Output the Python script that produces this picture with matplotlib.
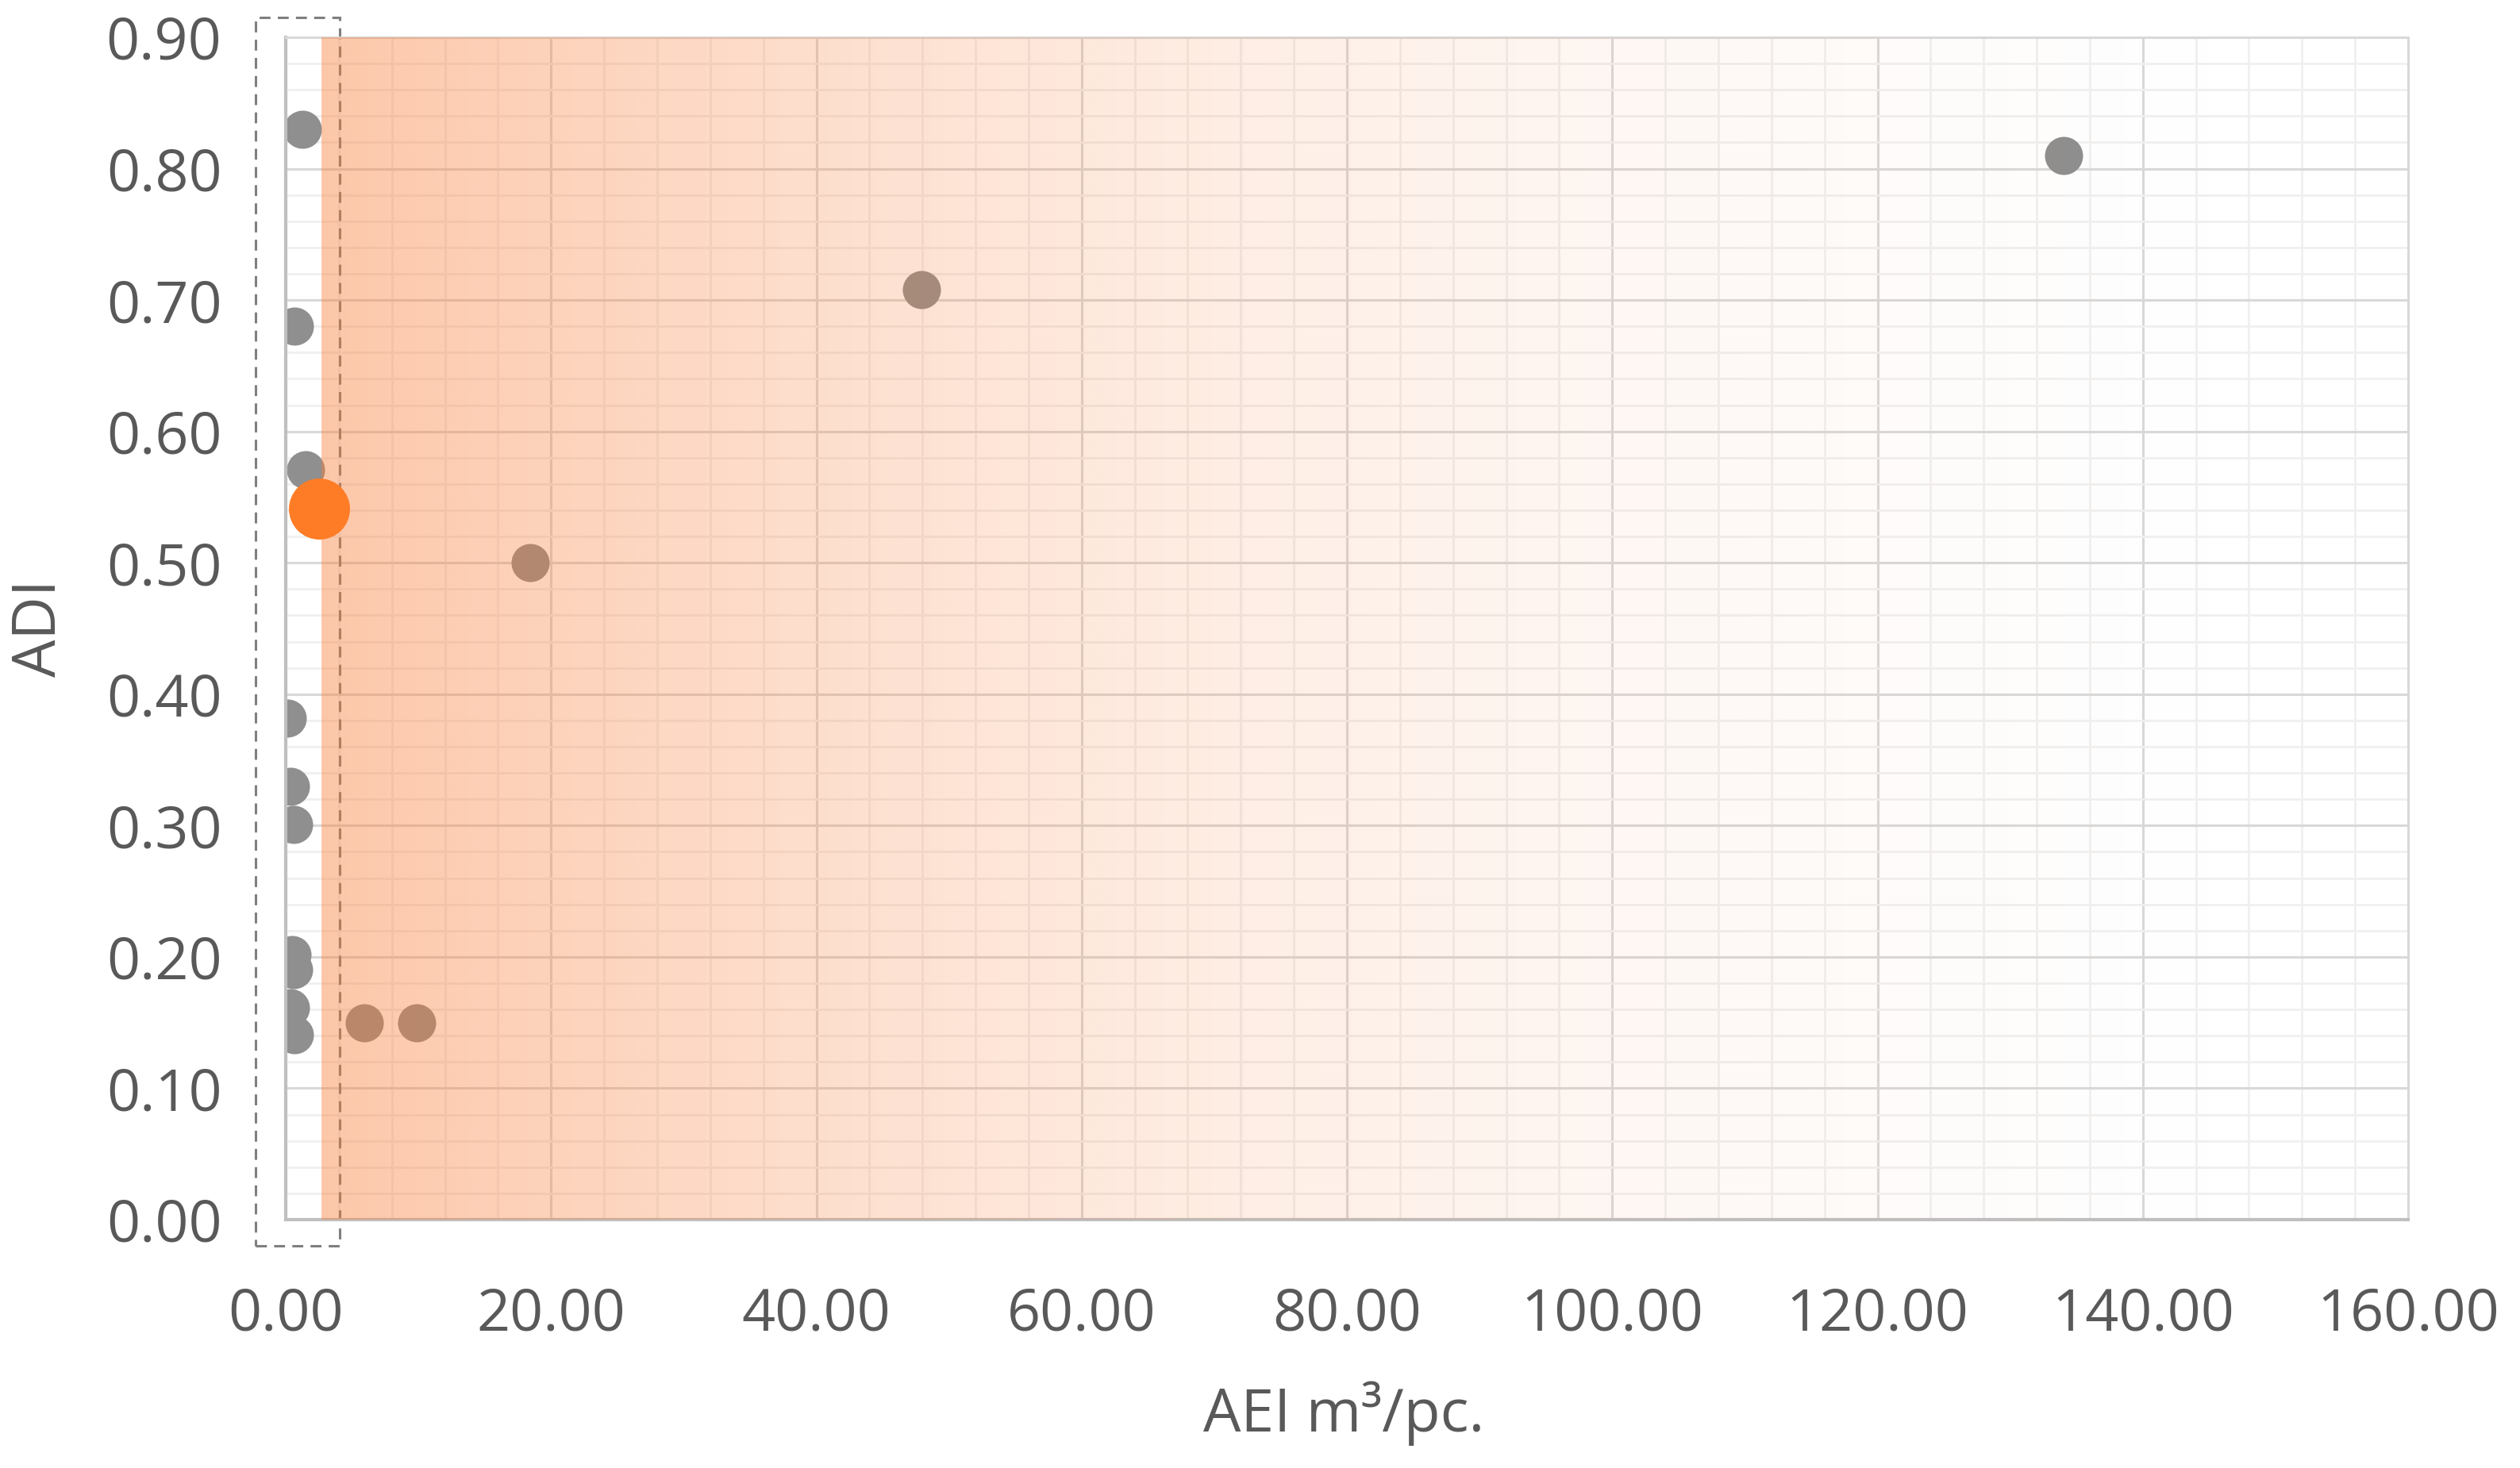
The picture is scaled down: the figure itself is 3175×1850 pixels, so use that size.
import numpy as np
import matplotlib
matplotlib.use("Agg")
import matplotlib.pyplot as plt
from matplotlib.patches import Rectangle
from matplotlib.ticker import MultipleLocator, FormatStrFormatter

plt.rcParams['font.family'] = ['Open Sans', 'DejaVu Sans']

# data (AEI m3/pc., ADI)
aei_gray = [1.26, 0.66, 1.5, 18.4, 47.9, 134.0, 0.1, 0.34, 0.6, 0.5, 0.6, 0.34, 0.66, 5.9, 9.9]
adi_gray = [0.830, 0.680, 0.571, 0.500, 0.708, 0.810, 0.382, 0.330, 0.301, 0.202, 0.190, 0.161, 0.141, 0.150, 0.150]
aei_hl = [2.5]
adi_hl = [0.541]
shade_start = 2.7
box_x = [-2.3, 4.07]
box_y = [-0.020, 0.915]

xlim = (0, 160)
ylim = (0, 0.9)

fig = plt.figure(figsize=(15.875, 9.25), dpi=200)
ax = fig.add_axes([0.1134, 0.1692, 0.9556 - 0.1134, 0.9746 - 0.1692])

txt = '#595959'
ax.scatter(aei_gray, adi_gray, s=17.3**2, color='#8F8F8F', linewidths=0, zorder=2)

box = Rectangle((box_x[0], box_y[0]), box_x[1] - box_x[0], box_y[1] - box_y[0],
                fill=False, edgecolor='#7F7F7F', linewidth=1.1, linestyle=(0, (4.5, 3)),
                clip_on=False, zorder=2.5)
ax.add_patch(box)

# gradient overlay
n = 800
t = np.linspace(0, 1, n)
alpha = 0.43 * (1 - t) ** 2
rgba = np.zeros((2, n, 4))
rgba[..., 0] = 250 / 255
rgba[..., 1] = 125 / 255
rgba[..., 2] = 55 / 255
rgba[..., 3] = alpha[None, :]
ax.imshow(rgba, extent=[shade_start, xlim[1], ylim[0], ylim[1]], aspect='auto',
          interpolation='bilinear', zorder=3)

ax.scatter(aei_hl, adi_hl, s=27.7**2, color='#FF7C26', linewidths=0, zorder=4, clip_on=False)

ax.set_xlim(*xlim)
ax.set_ylim(*ylim)
ax.xaxis.set_major_locator(MultipleLocator(20))
ax.xaxis.set_minor_locator(MultipleLocator(4))
ax.yaxis.set_major_locator(MultipleLocator(0.1))
ax.yaxis.set_minor_locator(MultipleLocator(0.02))
ax.xaxis.set_major_formatter(FormatStrFormatter('%.2f'))
ax.yaxis.set_major_formatter(FormatStrFormatter('%.2f'))
ax.set_axisbelow(True)
ax.grid(which='major', color='#D9D9D9', linewidth=1.1)
ax.grid(which='minor', color='#F0F0F0', linewidth=1.0)
ax.tick_params(which='both', length=0, labelsize=26.5, colors=txt)
ax.tick_params(axis='x', pad=30)
ax.tick_params(axis='y', pad=29)

for s in ['left', 'bottom']:
    ax.spines[s].set_color('#BFBFBF')
    ax.spines[s].set_linewidth(1.5)
for s in ['top', 'right']:
    ax.spines[s].set_color('#D9D9D9')
    ax.spines[s].set_linewidth(1.1)

ax.set_xlabel('AEI m³/pc.', fontsize=27, color=txt)
ax.set_ylabel('ADI', fontsize=27, color=txt)
ax.xaxis.set_label_coords(0.4985, -0.164)
ax.yaxis.set_label_coords(-0.1156, 0.5)
ax.xaxis.label.set_va('center')
ax.yaxis.label.set_va('center')

fig.savefig('out.png', dpi=200, facecolor='white')
